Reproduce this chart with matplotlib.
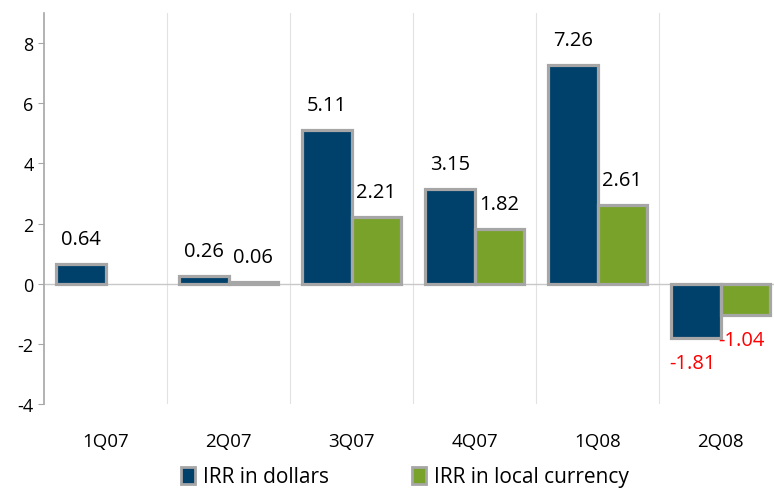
import numpy as np
import matplotlib
matplotlib.use("Agg")
import matplotlib.pyplot as plt
from matplotlib.patches import Patch

quarters = ["1Q07", "2Q07", "3Q07", "4Q07", "1Q08", "2Q08"]
irr_dollars = [0.64, 0.26, 5.11, 3.15, 7.26, -1.81]
irr_local = [None, 0.06, 2.21, 1.82, 2.61, -1.04]

blue = "#00416b"
green = "#79a22a"
edge = "#a6a6a6"

plt.rcParams['font.family'] = ['Open Sans', 'DejaVu Sans']
plt.rcParams['axes.unicode_minus'] = False

fig = plt.figure(figsize=(7.74, 4.89), dpi=100)
ax = fig.add_axes([44/774, 1 - 405/489, 738/774, 391/489])

x = np.arange(len(quarters))
w = 0.4
for i in range(len(quarters)):
    v = irr_dollars[i]
    ax.bar(x[i] - w/2, v, w, color=blue, edgecolor=edge, linewidth=2.3, zorder=3)
    if v >= 0:
        ax.text(x[i] - w/2, v + 0.5, "%.2f" % v, ha="center", va="bottom", fontsize=14.5)
    else:
        ax.text(x[i] - w/2 - 0.03, v - 0.5, "%.2f" % v, ha="center", va="top", fontsize=14.5, color="red")
    lv = irr_local[i]
    if lv is None:
        continue
    ax.bar(x[i] + w/2, lv, w, color=green, edgecolor=edge, linewidth=2.3, zorder=3)
    if lv >= 0:
        ax.text(x[i] + w/2, lv + 0.5, "%.2f" % lv, ha="center", va="bottom", fontsize=14.5)
    else:
        ax.text(x[i] + w/2 - 0.03, lv - 0.5, "%.2f" % lv, ha="center", va="top", fontsize=14.5, color="red")

ax.set_xlim(-0.5, len(quarters) - 0.5)
ax.set_ylim(-4, 9)
ax.set_yticks([-4, -2, 0, 2, 4, 6, 8])
ax.set_xticks(x)
ax.set_xticklabels(quarters, fontsize=13.5)
ax.tick_params(axis="x", length=0, pad=20)
ax.tick_params(axis="y", labelsize=13, length=4, color=edge, direction="out")
for s in ["top", "right", "bottom"]:
    ax.spines[s].set_visible(False)
ax.spines["left"].set_color(edge)
ax.spines["left"].set_linewidth(1.2)
ax.axhline(0, color="#c8c8c8", linewidth=1, zorder=2)
for b in np.arange(0.5, len(quarters) - 0.5, 1):
    ax.axvline(b, color="#e2e2e2", linewidth=0.8, zorder=1)

handles = [Patch(facecolor=blue, edgecolor=edge, linewidth=2),
           Patch(facecolor=green, edgecolor=edge, linewidth=2)]
fig.legend(handles, ["IRR in dollars", "IRR in local currency"], loc="center",
           bbox_to_anchor=(405/774, 1 - 478/489), ncol=2, frameon=False,
           fontsize=15, handlelength=0.65, handleheight=0.85, handletextpad=0.4,
           columnspacing=4.0)

fig.savefig("out.png", dpi=100)
